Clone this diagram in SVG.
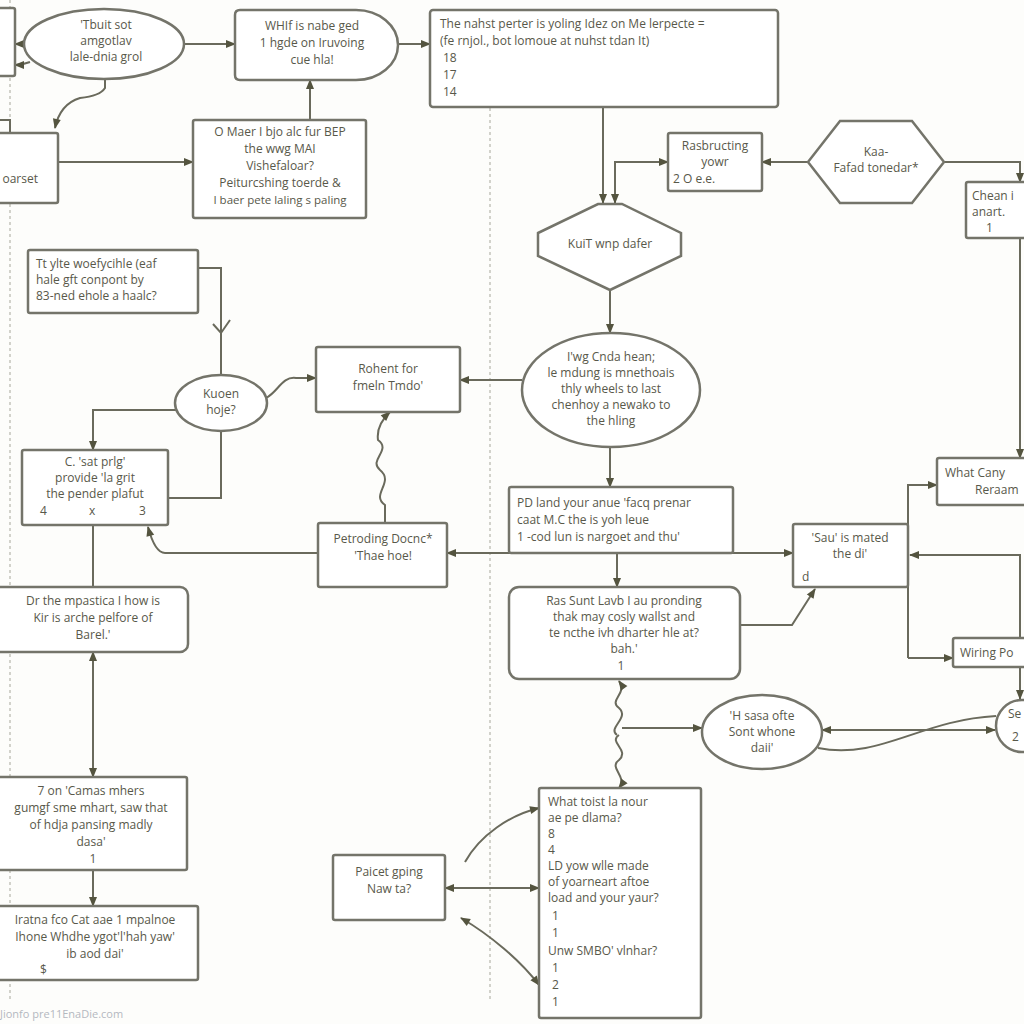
<svg xmlns="http://www.w3.org/2000/svg" width="1024" height="1024" viewBox="0 0 1024 1024">
<defs>
<marker id="a" viewBox="0 0 10 10" refX="9" refY="5" markerWidth="11" markerHeight="10" markerUnits="userSpaceOnUse" orient="auto-start-reverse"><path d="M0,1 L10,5 L0,9 z" fill="#54543f"/></marker>
<style>
.n{fill:#fff;stroke:#74746a;stroke-width:2.5}
.t{font-family:"Open Sans","Liberation Sans",sans-serif;font-size:12px;fill:#58584a}
.c{text-anchor:middle}
.e{fill:none;stroke:#6a6a5c;stroke-width:2}
.ea{fill:none;stroke:#6a6a5c;stroke-width:2;marker-end:url(#a)}
.eb{fill:none;stroke:#6a6a5c;stroke-width:2;marker-end:url(#a);marker-start:url(#a)}
.d{stroke:#c4c4bc;stroke-width:1.5;stroke-dasharray:3 3;fill:none}
</style>
</defs>
<rect width="1024" height="1024" fill="#fdfdfb"/>
<line class="d" x1="10" y1="0" x2="10" y2="1000"/>
<line class="d" x1="490" y1="108" x2="490" y2="1000"/>

<g id="connectors">
<path class="ea" d="M24,44 H15"/>
<path class="ea" d="M30,62 Q22,65 15,65"/>
<path class="ea" d="M184,44 H235"/>
<path class="ea" d="M398,44 H430"/>
<path class="ea" d="M105,80 V88 Q100,96 80,98 Q60,104 55,128"/>
<path class="ea" d="M0,120 H10 V158"/>
<path class="ea" d="M58,162 H193"/>
<path class="ea" d="M310,120 V80"/>
<path class="ea" d="M603,107 V203"/>
<path class="eb" d="M668,162 H615 V203"/>
<path class="ea" d="M808,162 H762"/>
<path class="ea" d="M944,162 H1020 V182"/>
<path class="ea" d="M1020,238 V458"/>
<path class="ea" d="M610,290 V333"/>
<path class="ea" d="M522,380 H460"/>
<path class="ea" d="M610,447 V487"/>
<path class="e" d="M198,268 H221 V375"/>
<path class="e" d="M213,324 L221,333 L230,320"/>
<path class="ea" d="M266,398 C278,392 282,376 296,378 L316,378"/>
<path class="ea" d="M176,410 H93 V450"/>
<path class="e" d="M221,431 V498 H168"/>
<path class="ea" d="M385,523 V505 C370,495 395,482 380,470 C368,460 392,450 378,440 Q376,425 390,412"/>
<path class="ea" d="M318,553 H165 Q155,553 148,527"/>
<path class="eb" d="M447,553 H793"/>
<path class="ea" d="M617,553 V587"/>
<path class="e" d="M93,525 V587"/>
<path class="eb" d="M93,652 V777"/>
<path class="ea" d="M93,870 V906"/>
<path class="ea" d="M740,625 H792 L815,589"/>
<path class="ea" d="M908,658 V485 H937"/>
<path class="ea" d="M908,658 H953"/>
<path class="ea" d="M1020,638 V555 H910"/>
<path class="ea" d="M1020,667 V699"/>
<path class="eb" d="M822,730 H995"/>
<path class="e" d="M818,748 C880,760 920,720 996,716"/>
<path class="ea" d="M617,735 C607,728 630,718 619,708 C608,700 628,694 619,681"/>
<path class="ea" d="M619,735 C608,742 630,750 619,760 C608,768 628,776 619,788"/>
<path class="ea" d="M622,728 H702"/>
<path class="eb" d="M445,888 H539"/>
<path class="ea" d="M465,862 C480,835 510,815 539,808"/>
<path class="eb" d="M461,918 C490,935 520,960 539,985"/>
</g>

<g id="n0"><rect class="n" x="-6" y="8" width="21" height="68" rx="2"/></g>
<g id="n1"><ellipse class="n" cx="104" cy="44" rx="80" ry="35"/>
<text class="t c" x="106" y="29">'Tbuit sot</text><text class="t c" x="106" y="45">amgotlav</text><text class="t c" x="106" y="61">lale-dnia grol</text></g>
<g id="n2"><path class="n" d="M240,10 H356 A42,35 0 0 1 356,80 H240 Q235,80 235,75 V15 Q235,10 240,10 Z"/>
<text class="t c" x="312" y="30">WHIf is nabe ged</text><text class="t c" x="312" y="47">1 hgde on Iruvoing</text><text class="t c" x="312" y="64">cue hla!</text></g>
<g id="n3"><rect class="n" x="430" y="10" width="348" height="97" rx="3"/>
<text class="t" x="440" y="28">The nahst perter is yoling Idez on Me lerpecte =</text><text class="t" x="440" y="45">(fe rnjol., bot lomoue at nuhst tdan It)</text><text class="t" x="443" y="62">18</text><text class="t" x="443" y="79">17</text><text class="t" x="443" y="96">14</text></g>
<g id="n4"><rect class="n" x="193" y="120" width="173" height="98" rx="2"/>
<text class="t c" x="280" y="136">O Maer I bjo alc fur BEP</text><text class="t c" x="280" y="153">the wwg MAI</text><text class="t c" x="280" y="170">Vishefaloar?</text><text class="t c" x="280" y="187">Peiturcshing toerde &amp;</text><text class="t c" x="280" y="204" style="font-size:11.5px">I baer pete laling s paling</text></g>
<g id="n5"><rect class="n" x="-6" y="133" width="64" height="70" rx="2"/>
<text class="t" x="38" y="183" text-anchor="end">oarset</text></g>
<g id="n6"><rect class="n" x="668" y="133" width="94" height="58" rx="2"/>
<text class="t c" x="715" y="150">Rasbructing</text><text class="t c" x="715" y="166">yowr</text><text class="t" x="673" y="183">2  O e.e.</text></g>
<g id="n7"><polygon class="n" points="808,162 840,121 912,121 944,162 912,203 840,203"/>
<text class="t c" x="876" y="156">Kaa-</text><text class="t c" x="876" y="172">Fafad tonedar*</text></g>
<g id="n8"><rect class="n" x="966" y="182" width="70" height="56" rx="2"/>
<text class="t" x="972" y="200">Chean i</text><text class="t" x="972" y="216">anart.</text><text class="t" x="986" y="232">1</text></g>
<g id="n9"><polygon class="n" points="538,233 598,204 622,204 681,233 681,256 610,290 538,256"/>
<text class="t c" x="610" y="248">KuiT wnp dafer</text></g>
<g id="n10"><ellipse class="n" cx="611" cy="390" rx="89" ry="57"/>
<text class="t c" x="611" y="361">I'wg Cnda hean;</text><text class="t c" x="611" y="377">le mdung is mnethoais</text><text class="t c" x="611" y="393">thly wheels to last</text><text class="t c" x="611" y="409">chenhoy a newako to</text><text class="t c" x="611" y="425">the hling</text></g>
<g id="n11"><rect class="n" x="316" y="347" width="144" height="65" rx="2"/>
<text class="t c" x="388" y="373">Rohent for</text><text class="t c" x="388" y="390">fmeln Tmdo'</text></g>
<g id="n12"><rect class="n" x="28" y="250" width="170" height="63" rx="2"/>
<text class="t" x="36" y="268">Tt ylte woefycihle (eaf</text><text class="t" x="36" y="284">hale gft conpont by</text><text class="t" x="36" y="300">83-ned ehole a haalc?</text></g>
<g id="n13"><ellipse class="n" cx="221" cy="403" rx="46" ry="28"/>
<text class="t c" x="221" y="398">Kuoen</text><text class="t c" x="221" y="414">hoje?</text></g>
<g id="n14"><rect class="n" x="22" y="450" width="146" height="75" rx="2"/>
<text class="t c" x="95" y="466">C. 'sat prlg'</text><text class="t c" x="95" y="482">provide 'la grit</text><text class="t c" x="95" y="498">the pender plafut</text><text class="t" x="40" y="515">4</text><text class="t" x="89" y="515">x</text><text class="t" x="139" y="515">3</text></g>
<g id="n15"><rect class="n" x="318" y="523" width="129" height="64" rx="2"/>
<text class="t c" x="383" y="543">Petroding Docnc*</text><text class="t c" x="383" y="560">'Thae hoe!</text></g>
<g id="n16"><rect class="n" x="509" y="487" width="224" height="66" rx="2"/>
<text class="t" x="517" y="507">PD land your anue 'facq prenar</text><text class="t" x="517" y="524">caat M.C the is yoh leue</text><text class="t" x="517" y="541">1 -cod lun is nargoet and thu'</text></g>
<g id="n17"><rect class="n" x="793" y="524" width="115" height="63" rx="2"/>
<text class="t c" x="850" y="542">'Sau' is mated</text><text class="t c" x="850" y="558">the di'</text><text class="t" x="802" y="581">d</text></g>
<g id="n18"><rect class="n" x="937" y="458" width="100" height="47" rx="2"/>
<text class="t" x="945" y="477">What Cany</text><text class="t" x="975" y="494">Reraam</text></g>
<g id="n19"><rect class="n" x="-10" y="587" width="198" height="65" rx="8"/>
<text class="t c" x="93" y="605">Dr the mpastica I how is</text><text class="t c" x="93" y="622">Kir is arche pelfore of</text><text class="t c" x="93" y="639">Barel.'</text></g>
<g id="n20"><rect class="n" x="509" y="587" width="231" height="92" rx="10"/>
<text class="t c" x="624" y="605">Ras Sunt Lavb I au pronding</text><text class="t c" x="624" y="621">thak may cosly wallst and</text><text class="t c" x="624" y="637">te ncthe ivh dharter hle at?</text><text class="t c" x="624" y="653">bah.'</text><text class="t c" x="621" y="670">1</text></g>
<g id="n21"><rect class="n" x="953" y="638" width="80" height="29" rx="2"/>
<text class="t" x="960" y="657">Wiring Po</text></g>
<g id="n22"><ellipse class="n" cx="762" cy="732" rx="60" ry="37"/>
<text class="t c" x="762" y="720">'H sasa ofte</text><text class="t c" x="762" y="736">Sont whone</text><text class="t c" x="762" y="752">daii'</text></g>
<g id="n23"><circle class="n" cx="1022" cy="726" r="26"/>
<text class="t" x="1008" y="718">Se</text><text class="t" x="1012" y="741">2</text></g>
<g id="n24"><rect class="n" x="-10" y="777" width="197" height="93" rx="2"/>
<text class="t c" x="91" y="795">7 on 'Camas mhers</text><text class="t c" x="91" y="812">gumgf sme mhart, saw that</text><text class="t c" x="91" y="829">of hdja pansing madly</text><text class="t c" x="91" y="846">dasa'</text><text class="t c" x="93" y="863">1</text></g>
<g id="n25"><rect class="n" x="-10" y="906" width="208" height="74" rx="2"/>
<text class="t c" x="95" y="924">Iratna fco Cat aae 1 mpalnoe</text><text class="t c" x="95" y="941">Ihone Whdhe ygot'l'hah yaw'</text><text class="t c" x="95" y="958">ib aod dai'</text><text class="t" x="40" y="974">$</text></g>
<g id="n26"><rect class="n" x="333" y="855" width="112" height="65" rx="2"/>
<text class="t c" x="389" y="876">Paicet gping</text><text class="t c" x="389" y="893">Naw ta?</text></g>
<g id="n27"><rect class="n" x="539" y="788" width="162" height="230" rx="2"/>
<text class="t" x="548" y="806">What toist la nour</text><text class="t" x="548" y="822">ae pe dlama?</text><text class="t" x="548" y="838">8</text><text class="t" x="548" y="854">4</text><text class="t" x="548" y="870">LD yow wlle made</text><text class="t" x="548" y="886">of yoarneart aftoe</text><text class="t" x="548" y="902">load and your yaur?</text><text class="t" x="552" y="920">1</text><text class="t" x="552" y="937">1</text><text class="t" x="548" y="955">Unw SMBO' vlnhar?</text><text class="t" x="552" y="972">1</text><text class="t" x="552" y="989">2</text><text class="t" x="552" y="1006">1</text></g>

<text class="t" x="0" y="1018" style="fill:#b4b8c0;font-size:11px">Jionfo pre11EnaDie.com</text>
</svg>
